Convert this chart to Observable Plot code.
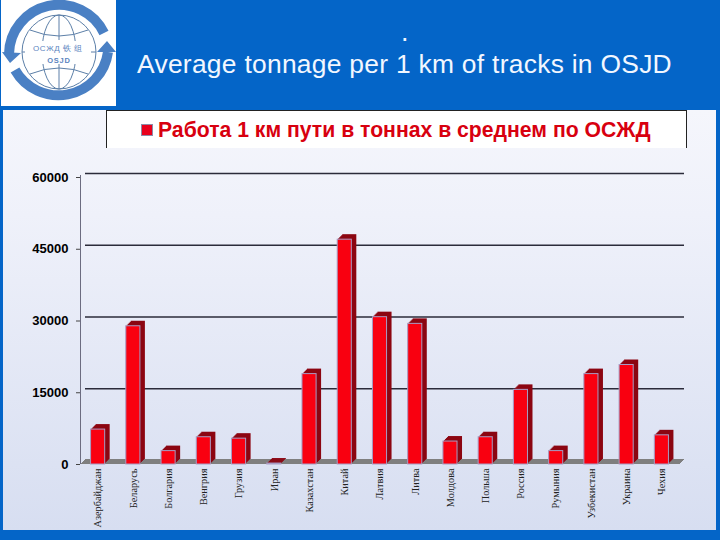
<!DOCTYPE html>
<html lang="ru"><head><meta charset="utf-8">
<script src="https://cdn.jsdelivr.net/npm/d3@7"></script>
<script src="https://cdn.jsdelivr.net/npm/@observablehq/plot@0.6"></script>
<style>
html,body{margin:0;padding:0;width:720px;height:540px;overflow:hidden}
body{position:relative;background:#0465c8;font-family:"Liberation Sans",Arial,sans-serif}
#logo{position:absolute;left:1px;top:0;width:115px;height:106px;background:#fff}
#dot,#title{position:absolute;color:#f2f7ff;line-height:28px;white-space:nowrap}
#dot{left:401px;top:18px;font-size:27px}
#title{left:137px;top:50px;font-size:26.4px;letter-spacing:0.28px}
#panel{position:absolute;left:3px;top:110px;width:713px;height:420px;background:linear-gradient(#f5f6fc,#eff1fa 25%,#d7def1)}
#legend{position:absolute;left:106px;top:110px;width:581px;height:38px;background:#fff;border:1px solid #222;border-bottom:0;box-sizing:border-box}
#swatch{position:absolute;left:142px;top:125px;width:10px;height:10px;background:#e8001c;box-shadow:0 0 0 1px #8c8ca8}
#legendText{position:absolute;left:158px;top:118px;color:#d8000f;font-weight:bold;font-size:21.2px;line-height:24px;white-space:nowrap}
#wall{position:absolute;left:80px;top:175px;width:1px;height:289px;background:#6c6c80}
#chart{position:absolute;left:0;top:150px;width:720px;height:380px}
#chart svg{display:block;background:transparent}
</style></head><body>
<div id="panel"></div>
<div id="wall"></div>
<div id="logo"><svg width="115" height="106" viewBox="0 0 115 106">
<g fill="none" stroke="#4a80c4" stroke-width="10">
<path d="M8 54A50 50 0 0 1 103 33"/><path d="M107 52A50 50 0 0 1 14 70"/></g>
<path d="M1 52L20 53L9 63Z M115 52L96 52L106 41Z" fill="#4a80c4"/>
<g fill="none" stroke="#5c7fa8" stroke-width="1">
<circle cx="58" cy="52" r="37"/><ellipse cx="58" cy="52" rx="17" ry="37"/>
<path d="M58 15V40M58 64V89M21 52H95M29 30Q58 42 87 30M29 74Q58 62 87 74"/></g>
<rect x="24" y="41" width="66" height="23" fill="#fff"/>
<text x="57" y="51" text-anchor="middle" font-size="8" font-family="Liberation Sans" fill="#5c85c0" letter-spacing="0.6">ОСЖД  铁 组</text>
<text x="58" y="63" text-anchor="middle" font-size="7.5" font-weight="bold" font-family="Liberation Sans" fill="#5c85c0" letter-spacing="0.8">OSJD</text>
</svg></div>
<div id="dot">.</div>
<div id="title">Average tonnage per 1 km of tracks in OSJD</div>
<div id="legend"></div><div id="swatch"></div>
<div id="legendText">Работа 1 км пути в тоннах в среднем по ОСЖД</div>
<div id="chart"></div>
<script>
const countries = ["Азербайджан","Беларусь","Болгария","Венгрия","Грузия","Иран","Казахстан","Китай","Латвия","Литва","Молдова","Польша","Россия","Румыния","Узбекистан","Украина","Чехия"];
const tonnage = [7300,28900,2800,5700,5400,200,18900,47000,30800,29400,4800,5700,15600,2800,18900,20800,6100];
const yTicks = [0,15000,30000,45000,60000];
const rows = countries.map((c,i)=>({c,v:tonnage[i]}));
const depth = [5,4,3,2,1];

const plot = Plot.plot({
  width:720,height:380,
  marginLeft:80,marginRight:41,marginTop:27,marginBottom:66,
  style:{background:"transparent",overflow:"visible"},
  x:{domain:countries,round:false,paddingInner:0.6,paddingOuter:0.3,label:null},
  y:{domain:[0,60000],label:null},
  marks:[
    Plot.ruleY(yTicks.slice(1),{stroke:"#2b2b3a",strokeWidth:1.3,dx:5,dy:-4}),
    ...depth.map(k=>Plot.ruleY([0],{stroke:"#7f7f7f",strokeWidth:1.2,dx:k,dy:-k})),
    Plot.axisY({ticks:yTicks,tickSize:4,tickPadding:8,tickFormat:d=>String(d),
      fontSize:13,fontWeight:"bold",fontFamily:"Liberation Sans",fill:"#000",stroke:"#444",label:null}),
    Plot.axisX({tickSize:0,tickPadding:4,tickRotate:-90,fontSize:10.3,
      fontFamily:"Liberation Serif",fill:"#222",label:null}),
    ...depth.map(k=>Plot.barY(rows,{x:"c",y:"v",fill:"#8c0612",dx:k,dy:-k})),
    Plot.barY(rows,{x:"c",y:"v",fill:"#f90010",stroke:"#a79cc4",strokeWidth:1})
  ]
});
document.getElementById("chart").append(plot);
</script>
</body></html>
